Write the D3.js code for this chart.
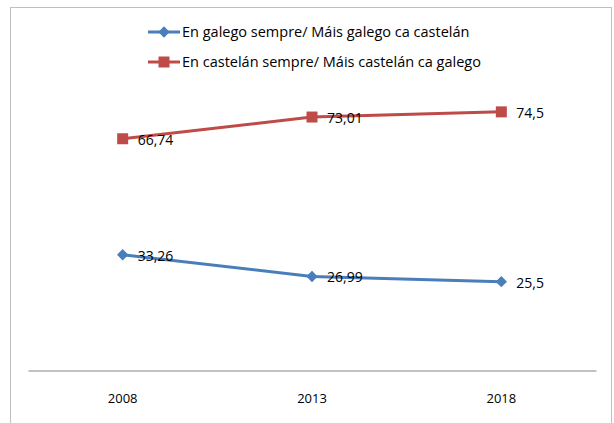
<!DOCTYPE html>
<html>
<head>
<meta charset="utf-8">
<script src="https://cdn.jsdelivr.net/npm/d3@7"></script>
<style>
  body { margin: 0; background: #fff; }
  text { font-family: "Open Sans", "Noto Sans", sans-serif; }
</style>
</head>
<body>
<div id="chart"></div>
<script>
// Data
const years = ['2008', '2013', '2018'];
const galegoValues = [33.26, 26.99, 25.5];
const castelanValues = [66.74, 73.01, 74.5];
const seriesNames = ['En galego sempre/ Máis galego ca castelán', 'En castelán sempre/ Máis castelán ca galego'];

const width = 614;
const height = 423;

const svg = d3.select('#chart')
  .append('svg')
  .attr('width', width)
  .attr('height', height);

// Chart border
svg.append('rect')
  .attr('x', 10.5)
  .attr('y', 7.5)
  .attr('width', 601)
  .attr('height', 430)
  .attr('fill', 'none')
  .attr('stroke', '#bfbfbf');

// Scales
const xScale = d3.scaleBand()
  .domain(years)
  .range([28, 596]);

const yScale = d3.scaleLinear()
  .domain([0, 100])
  .range([370, 23.5]);

// X axis (line only, labels below)
const xAxis = svg.append('g')
  .attr('transform', 'translate(0,370.5)')
  .call(d3.axisBottom(xScale).tickSize(0).tickPadding(23));
xAxis.select('.domain').attr('stroke', '#868686').attr('stroke-width', 1);
xAxis.selectAll('text')
  .style('font-size', '13px')
  .style('font-family', '"Open Sans", sans-serif')
  .attr('fill', '#000');

// diamond = square turned 45 degrees
const series = [
  { name: seriesNames[0], values: galegoValues, color: '#4a7ebb', symbol: d3.symbolSquare, size: 64, rotate: 45 },
  { name: seriesNames[1], values: castelanValues, color: '#be4b48', symbol: d3.symbolSquare, size: 121, rotate: 0 }
];

const line = d3.line()
  .x((d, i) => xScale(years[i]) + xScale.bandwidth() / 2)
  .y(d => yScale(d));

series.forEach(s => {
  svg.append('path')
    .datum(s.values)
    .attr('d', line)
    .attr('fill', 'none')
    .attr('stroke', s.color)
    .attr('stroke-width', 3);

  svg.selectAll(null)
    .data(s.values)
    .enter()
    .append('path')
    .attr('d', d3.symbol().type(s.symbol).size(s.size))
    .attr('transform', (d, i) => `translate(${xScale(years[i]) + xScale.bandwidth() / 2},${yScale(d)}) rotate(${s.rotate})`)
    .attr('fill', s.color);

  // Data labels
  svg.selectAll(null)
    .data(s.values)
    .enter()
    .append('text')
    .attr('x', (d, i) => xScale(years[i]) + xScale.bandwidth() / 2 + 15)
    .attr('y', d => yScale(d) + 6)
    .style('font-size', '14px')
    .attr('fill', '#000')
    .text(d => d3.format('')(d).replace('.', ','));
});

// Legend
const legend = svg.append('g');
series.forEach((s, i) => {
  const ly = 32 + i * 30;
  legend.append('line')
    .attr('x1', 148).attr('x2', 180)
    .attr('y1', ly).attr('y2', ly)
    .attr('stroke', s.color)
    .attr('stroke-width', 3);
  legend.append('path')
    .attr('d', d3.symbol().type(s.symbol).size(s.size))
    .attr('transform', `translate(164,${ly}) rotate(${s.rotate})`)
    .attr('fill', s.color);
  legend.append('text')
    .attr('x', 182)
    .attr('y', ly + 5)
    .style('font-size', '14.5px')
    .attr('fill', '#000')
    .text(s.name);
});
</script>
</body>
</html>
